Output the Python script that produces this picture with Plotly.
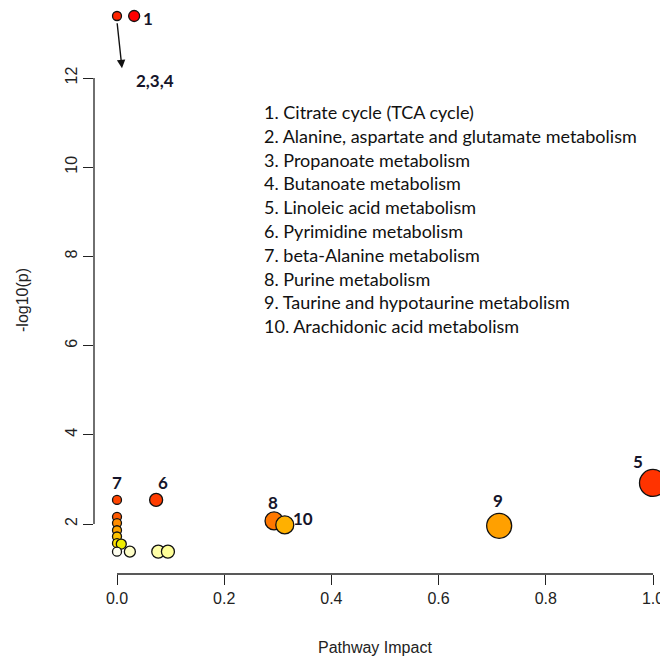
import plotly.graph_objects as go

# ---- data ----
impact = [0.0, 0.032, 0.0, 0.0, 0.0, 0.0, 0.0, 0.0, 0.008, 0.0, 0.024, 0.077, 0.095, 0.073, 0.293, 0.313, 0.713, 1.0]
neglogp = [13.39, 13.39, 2.54, 2.16, 2.02, 1.86, 1.72, 1.57, 1.55, 1.38, 1.38, 1.38, 1.38, 2.54, 2.07, 1.98, 1.96, 2.92]
sizes = [9, 11, 9, 9, 9, 9, 9, 9, 10, 9, 11, 13, 13, 13, 18, 18, 25, 27]
colors = ["#FF2400", "#FF0000", "#FF4500", "#FF5A00", "#FF8C00", "#FFA500", "#FFC400", "#FFE000",
          "#EEEE00", "#FFFFF0", "#FFFFC8", "#FFFFA8", "#FFFF98", "#FF3C00", "#FF7800", "#FFB000",
          "#FFA000", "#FF3300"]

labels = ["1", "7", "6", "8", "10", "9", "5"]
label_idx = [1, 2, 13, 14, 15, 16, 17]
label_dx = [14, 0, 7, -1, 18, -1, -15]
label_dy = [-2, 17, 17, 18, 6, 25, 21]

legend_lines = [
    "1. Citrate cycle (TCA cycle)",
    "2. Alanine, aspartate and glutamate metabolism",
    "3. Propanoate metabolism",
    "4. Butanoate metabolism",
    "5. Linoleic acid metabolism",
    "6. Pyrimidine metabolism",
    "7. beta-Alanine metabolism",
    "8. Purine metabolism",
    "9. Taurine and hypotaurine metabolism",
    "10. Arachidonic acid metabolism",
]

x_ticks = [0.0, 0.2, 0.4, 0.6, 0.8, 1.0]
y_ticks = [2, 4, 6, 8, 10, 12]

OFF = 8  # page body margin
W, H = 668 - OFF, 664 - 2 * OFF
ML = 94 - OFF
PH = 574 - OFF
MB = H - PH
PW = W - ML
xr = [-0.04291, 1.02799]
yr = [0.8789, 13.5695]


def px(xp):
    return (xp - OFF - ML) / PW


def py(yp):
    return 1 - (yp - OFF) / PH


fig = go.Figure()
fig.add_trace(go.Scatter(
    x=impact, y=neglogp, mode="markers",
    marker=dict(size=sizes, color=colors, line=dict(color="#111111", width=1.3), opacity=1),
    hoverinfo="skip", showlegend=False, cliponaxis=False,
))

ann = []
lab_font = dict(family="Lato", size=17, color="#15152a")
for t, i, dx, dy in zip(labels, label_idx, label_dx, label_dy):
    ann.append(dict(x=impact[i], y=neglogp[i], text="<b>%s</b>" % t, showarrow=False,
                    xshift=dx, yshift=dy, font=lab_font))

# arrow from the small top point to label 2,3,4
ann.append(dict(x=0.0093, y=12.22, ax=impact[0], ay=13.26, axref="x", ayref="y",
                xref="x", yref="y", text="", showarrow=True, arrowhead=2, arrowsize=1.2,
                arrowwidth=1.4, arrowcolor="#111111"))
ann.append(dict(x=0.0093, y=12.22, text="<b>2,3,4</b>", showarrow=False,
                xshift=33, yshift=-12, font=lab_font))

# pathway list
y0 = 112
for k, line in enumerate(legend_lines):
    ypix = y0 + k * 23.8
    ann.append(dict(xref="paper", yref="paper", x=px(262), y=py(ypix),
                    text=line, showarrow=False, xanchor="left", yanchor="middle",
                    font=dict(family="Lato", size=18, color="#111111")))

# axis titles
ann.append(dict(xref="paper", yref="paper", x=px(375), y=py(647),
                text="Pathway Impact", showarrow=False, yanchor="middle",
                font=dict(family="Liberation Sans", size=16, color="#222222")))
ann.append(dict(xref="paper", yref="paper", x=px(22), y=py(300),
                text="-log10(p)", showarrow=False, textangle=-90, xanchor="center", yanchor="middle",
                font=dict(family="Liberation Sans", size=16, color="#222222")))

shapes = [
    dict(type="line", xref="x", yref="paper", x0=0, x1=1, y0=0, y1=0,
         line=dict(color="#222222", width=1.3)),
    dict(type="line", xref="paper", yref="y", x0=0, x1=0, y0=2, y1=12,
         line=dict(color="#222222", width=1.3)),
]

fig.update_layout(
    width=W, height=H, margin=dict(l=ML, r=0, t=0, b=MB),
    paper_bgcolor="white", plot_bgcolor="white",
    xaxis=dict(range=xr, tickvals=x_ticks, ticktext=["%.1f" % v for v in x_ticks],
               ticks="outside", ticklen=10, tickwidth=1.3, tickcolor="#222222",
               showline=False, showgrid=False, zeroline=False, automargin=False,
               ticklabeloverflow="allow",
               tickfont=dict(family="Liberation Sans", size=16, color="#222222")),
    yaxis=dict(range=yr, tickvals=y_ticks, ticktext=[str(v) for v in y_ticks],
               ticks="outside", ticklen=10, tickwidth=1.3, tickcolor="#222222",
               tickangle=-90, showline=False, showgrid=False, zeroline=False, automargin=False,
               tickfont=dict(family="Liberation Sans", size=16, color="#222222")),
    annotations=ann, shapes=shapes,
)

fig.write_html("out.html", default_width="%dpx" % W, default_height="%dpx" % H)
